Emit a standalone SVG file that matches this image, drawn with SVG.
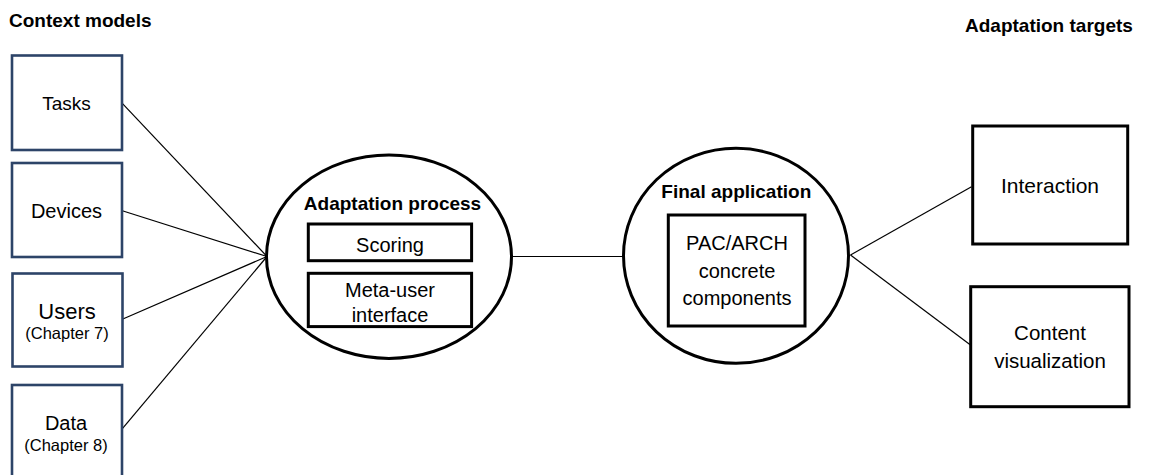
<svg xmlns="http://www.w3.org/2000/svg" width="1151" height="475" viewBox="0 0 1151 475">
<style>
text{font-family:"Liberation Sans",Arial,sans-serif;fill:#000}
.t{font-size:20px;text-anchor:middle}
.b{font-size:19px;font-weight:bold}
.bc{font-size:19px;font-weight:bold;text-anchor:middle}
.ctx{fill:#fff;stroke:#2D4468;stroke-width:2.6}
.box{fill:#fff;stroke:#000;stroke-width:3}
.ell{fill:#fff;stroke:#000;stroke-width:3}
.con{stroke:#000;stroke-width:1.2;fill:none}
</style>
<rect width="1151" height="475" fill="#fff"/>
<text class="b" x="9" y="26.7">Context models</text>
<text class="b" x="965" y="31.7">Adaptation targets</text>
<g id="connectors">
<line class="con" x1="122.3" y1="103.3" x2="267" y2="256.5"/>
<line class="con" x1="122.3" y1="210.7" x2="267" y2="256.5"/>
<line class="con" x1="122.3" y1="319.3" x2="267" y2="256.5"/>
<line class="con" x1="120.7" y1="430.7" x2="267" y2="256.5"/>
<line class="con" x1="511.5" y1="256.5" x2="623.5" y2="256.5"/>
<line class="con" x1="850.5" y1="255" x2="971.5" y2="186.7"/>
<line class="con" x1="850.5" y1="255" x2="970.5" y2="345"/>
</g>
<g id="tasks">
<rect class="ctx" x="12" y="55.5" width="110" height="94.5"/>
<text class="t" x="66.5" y="110" style="font-size:19px">Tasks</text>
</g>
<g id="devices">
<rect class="ctx" x="12" y="163" width="110" height="94"/>
<text class="t" x="66.5" y="218">Devices</text>
</g>
<g id="users">
<rect class="ctx" x="12.5" y="273.5" width="110" height="93"/>
<text class="t" x="67" y="318.5" style="font-size:22px">Users</text>
<text class="t" x="67" y="339" style="font-size:16.5px">(Chapter 7)</text>
</g>
<g id="data">
<rect class="ctx" x="12" y="385" width="110" height="100"/>
<text class="t" x="66" y="429.5">Data</text>
<text class="t" x="66" y="450.5" style="font-size:16.5px">(Chapter 8)</text>
</g>
<g id="adaptation-process">
<ellipse class="ell" cx="389" cy="256.7" rx="122.5" ry="101.7"/>
<text class="bc" x="392.5" y="210">Adaptation process</text>
<rect class="box" x="308.3" y="224" width="163.3" height="36.7"/>
<text class="t" x="390" y="251.7">Scoring</text>
<rect class="box" x="308.3" y="273.3" width="163.3" height="53.3"/>
<text class="t" x="390" y="296.7">Meta-user</text>
<text class="t" x="390" y="321.7">interface</text>
</g>
<g id="final-application">
<ellipse class="ell" cx="736" cy="255.8" rx="112.5" ry="107.5"/>
<text class="bc" x="736.3" y="198.3">Final application</text>
<rect class="box" x="668.3" y="215" width="136.7" height="111"/>
<text class="t" x="737" y="250">PAC/ARCH</text>
<text class="t" x="737" y="278.3">concrete</text>
<text class="t" x="737" y="305">components</text>
</g>
<g id="interaction">
<rect class="box" x="972.7" y="126" width="155" height="118"/>
<text class="t" x="1050" y="193.3" style="font-size:21px">Interaction</text>
</g>
<g id="content-visualization">
<rect class="box" x="970.7" y="286.7" width="158.3" height="120"/>
<text class="t" x="1050" y="340" style="font-size:20.5px">Content</text>
<text class="t" x="1050" y="368.3" style="font-size:20.5px">visualization</text>
</g>
</svg>
